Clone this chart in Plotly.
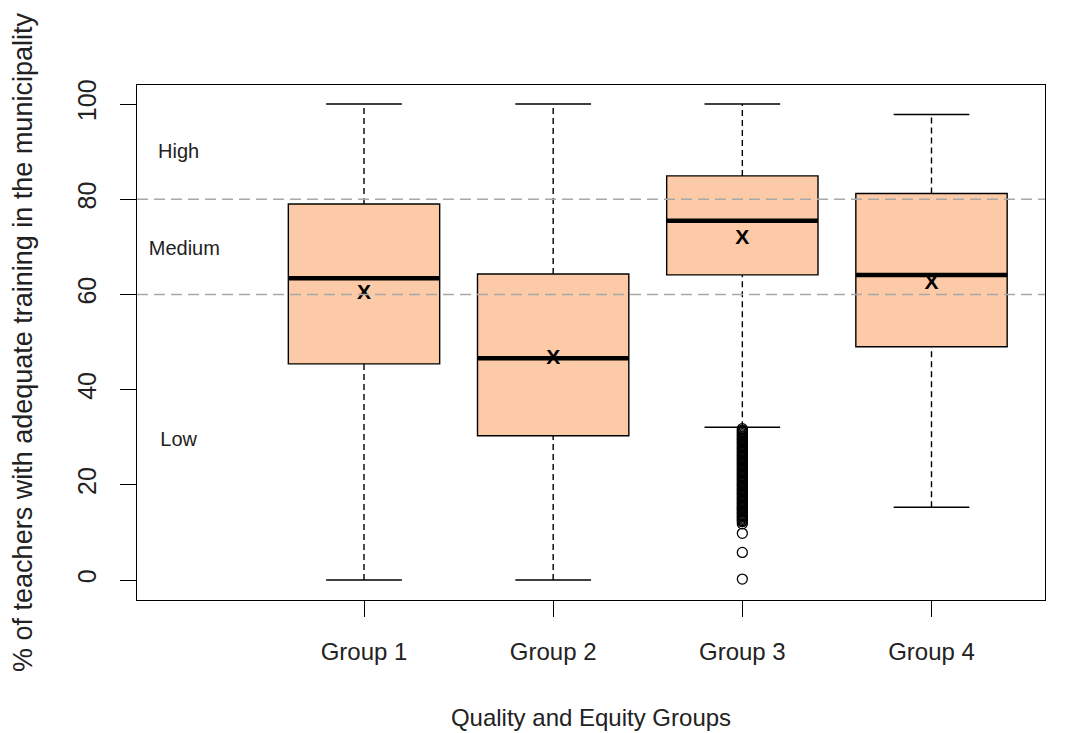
import plotly.graph_objects as go

groups = ["Group 1", "Group 2", "Group 3", "Group 4"]
positions = [1, 2, 3, 4]
q1 = [45.4, 30.3, 64.1, 49.0]
median = [63.4, 46.6, 75.5, 64.1]
q3 = [79.0, 64.3, 84.9, 81.2]
lower_whisker = [0.0, 0.0, 32.1, 15.3]
upper_whisker = [100.0, 100.0, 100.0, 97.8]
means = [60.1, 46.4, 71.8, 62.2]
group3_outliers = [31.8, 31.5, 31.25, 31.0, 30.75, 30.5, 30.25, 30.0, 29.75, 29.5, 29.25, 29.0,
                   28.75, 28.5, 28.25, 28.0, 27.75, 27.5, 27.25, 27.0, 26.75, 26.5, 26.25, 26.0,
                   25.75, 25.5, 25.25, 25.0, 24.75, 24.5, 24.25, 24.0, 23.75, 23.5, 23.25, 23.0,
                   22.75, 22.5, 22.25, 22.0, 21.75, 21.5, 21.25, 21.0, 20.75, 20.5, 20.25, 20.0,
                   19.75, 19.5, 19.25, 19.0, 18.75, 18.5, 18.25, 18.0, 17.75, 17.5, 17.25, 17.0,
                   16.75, 16.5, 16.25, 16.0, 15.75, 15.5, 15.25, 15.0, 14.75, 14.5, 14.25, 14.0,
                   13.75, 13.5, 13.25, 13.0, 12.75, 12.5, 12.25, 11.8, 9.8, 5.8, 0.2]
band_labels = ["High", "Medium", "Low"]
band_label_y = [89.7, 69.3, 29.2]
band_label_x = [0.02, 0.05, 0.02]
thresholds = [60, 80]

BOX_W = 0.8
STAPLE_W = 0.4
FILL = "#FCCAA6"
FONT = "Arial, Liberation Sans, sans-serif"

fig = go.Figure()

# whiskers (dashed) and staples
for i, p in enumerate(positions):
    fig.add_trace(go.Scatter(x=[p, p], y=[q3[i], upper_whisker[i]], mode="lines",
                             line=dict(color="black", width=1.4, dash="6px,4px"),
                             showlegend=False, hoverinfo="skip"))
    fig.add_trace(go.Scatter(x=[p, p], y=[lower_whisker[i], q1[i]], mode="lines",
                             line=dict(color="black", width=1.4, dash="6px,4px"),
                             showlegend=False, hoverinfo="skip"))
    for yv in (upper_whisker[i], lower_whisker[i]):
        fig.add_trace(go.Scatter(x=[p - STAPLE_W / 2, p + STAPLE_W / 2], y=[yv, yv], mode="lines",
                                 line=dict(color="black", width=1.6),
                                 showlegend=False, hoverinfo="skip"))

# boxes
for i, p in enumerate(positions):
    fig.add_trace(go.Box(x=[p], q1=[q1[i]], median=[median[i]], q3=[q3[i]],
                         lowerfence=[q1[i]], upperfence=[q3[i]],
                         width=BOX_W, fillcolor=FILL, whiskerwidth=0,
                         line=dict(color="black", width=1.4),
                         showlegend=False, hoverinfo="skip", boxpoints=False))

# thick medians
for i, p in enumerate(positions):
    fig.add_trace(go.Scatter(x=[p - BOX_W / 2, p + BOX_W / 2], y=[median[i], median[i]],
                             mode="lines", line=dict(color="black", width=4.5),
                             showlegend=False, hoverinfo="skip"))

# outliers
fig.add_trace(go.Scatter(x=[3] * len(group3_outliers), y=group3_outliers, mode="markers",
                         marker=dict(symbol="circle-open", size=10, color="black",
                                     line=dict(width=1.3, color="black")),
                         showlegend=False, hoverinfo="skip"))

# means
fig.add_trace(go.Scatter(x=positions, y=means, mode="text", text=["<b>X</b>"] * 4,
                         textposition="middle center",
                         textfont=dict(family=FONT, size=21, color="black"),
                         showlegend=False, hoverinfo="skip"))

# band labels
fig.add_trace(go.Scatter(x=band_label_x, y=band_label_y, mode="text", text=band_labels,
                         textposition="middle center",
                         textfont=dict(family=FONT, size=20, color="#222222"),
                         showlegend=False, hoverinfo="skip"))

for t in thresholds:
    fig.add_shape(type="line", xref="paper", x0=0, x1=1, yref="y", y0=t, y1=t,
                  line=dict(color="#A8A8A8", width=1.4, dash="11px,6px"), layer="above")

fig.update_layout(
    width=1070, height=733,
    paper_bgcolor="white", plot_bgcolor="white",
    margin=dict(l=129, r=33, t=77, b=141),
    font=dict(family=FONT, color="black"),
    xaxis=dict(range=[-0.2, 4.6], tickvals=positions, ticktext=groups,
               showgrid=False, zeroline=False, showline=True, linecolor="black",
               linewidth=1.4, mirror=True, ticks="outside", ticklen=16, tickwidth=1.3,
               tickcolor="black", tickfont=dict(size=24, family=FONT, color="#222222"),
               ticklabelstandoff=14, automargin=False,
               title=dict(text="Quality and Equity Groups",
                          font=dict(size=24, family=FONT, color="#222222"),
                          standoff=45)),
    yaxis=dict(range=[-4.2, 104], tickvals=[0, 20, 40, 60, 80, 100],
               showgrid=False, zeroline=False, showline=True, linecolor="black",
               linewidth=1.4, mirror=True, ticks="outside", ticklen=16, tickwidth=1.3,
               tickcolor="black", tickangle=-90,
               tickfont=dict(size=25, family=FONT, color="#222222"),
               ticklabelstandoff=14, automargin=False,
               title=dict(text="% of teachers with adequate training in the municipality",
                          font=dict(size=27, family=FONT, color="#222222"), standoff=40)),
)

fig.write_html("out.html")
